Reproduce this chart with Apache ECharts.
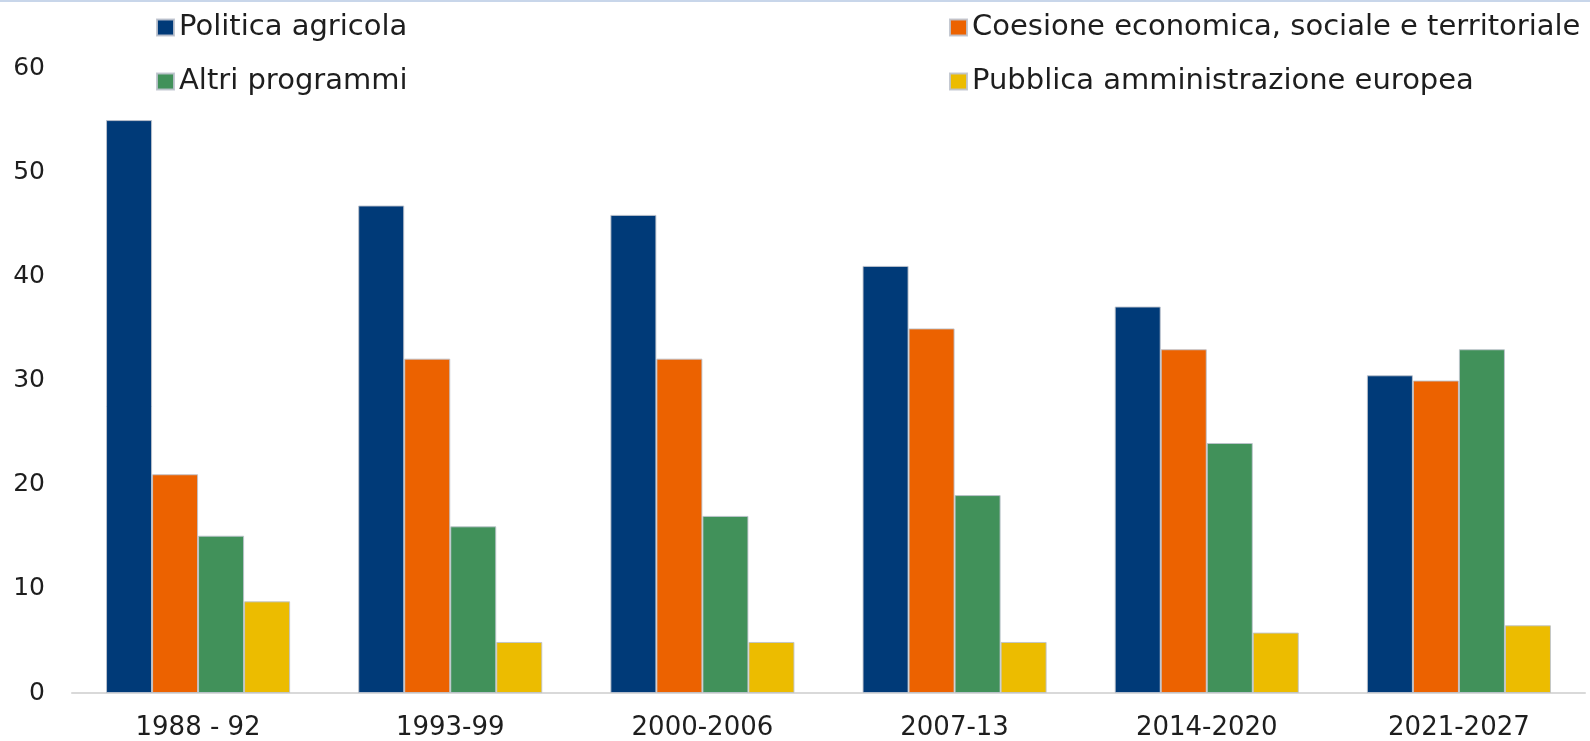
<!DOCTYPE html>
<html>
<head>
<meta charset="utf-8">
<script src="https://cdn.jsdelivr.net/npm/echarts@6/dist/echarts.min.js"></script>
<style>html,body{margin:0;padding:0;background:#fff;}#c{width:1590px;height:741px;}</style>
</head>
<body>
<div id="c"></div>
<script>
const categories = ['1988 - 92', '1993-99', '2000-2006', '2007-13', '2014-2020', '2021-2027'];
const politicaAgricola = [55.0, 46.8, 45.9, 41.0, 37.1, 30.5];
const coesione = [21.0, 32.1, 32.1, 35.0, 33.0, 30.0];
const altriProgrammi = [15.1, 16.0, 17.0, 19.0, 24.0, 33.0];
const pubblicaAmm = [8.8, 4.9, 4.9, 4.9, 5.8, 6.5];
const yTicks = [0, 10, 20, 30, 40, 50, 60];

const names = ['Politica agricola', 'Coesione economica, sociale e territoriale', 'Altri programmi', 'Pubblica amministrazione europea'];
const colors = ['#003a78', '#ec6200', '#41915a', '#ecbc00'];
const values = [politicaAgricola, coesione, altriProgrammi, pubblicaAmm];
const font = 'DejaVu Sans';

const chart = echarts.init(document.getElementById('c'));
const legendPos = [[151, 8], [944, 8], [151, 62], [944, 62]];
chart.setOption({
  animation: false,
  textStyle: { fontFamily: font },
  graphic: [{ type: 'rect', shape: { x: 0, y: 0, width: 1590, height: 2 }, style: { fill: '#c8d6ea' } }],
  legend: names.map((n, i) => ({
    data: [n], left: legendPos[i][0], top: legendPos[i][1],
    itemWidth: 17, itemHeight: 16, icon: 'rect',
    textStyle: { fontFamily: font, fontSize: 29, color: '#1e1e1e' }
  })),
  grid: { left: 72, right: 5, top: 68, bottom: 45, containLabel: false },
  xAxis: {
    type: 'category', data: categories,
    axisLine: { lineStyle: { color: '#d9d9d9', width: 2 } },
    axisTick: { show: false },
    axisLabel: { fontFamily: font, fontSize: 26, color: '#1e1e1e', margin: 22 }
  },
  yAxis: {
    type: 'value', min: 0, max: 60, interval: 10,
    splitLine: { show: false },
    axisLine: { show: false }, axisTick: { show: false },
    axisLabel: { fontFamily: font, fontSize: 25, color: '#1e1e1e', margin: 27,
      formatter: v => yTicks.includes(v) ? String(v) : '' }
  },
  series: values.map((v, i) => ({
    name: names[i], type: 'bar', data: v,
    barGap: '0%', barCategoryGap: '27%',
    itemStyle: { color: colors[i], borderColor: 'rgba(190,195,205,0.9)', borderWidth: 1 }
  }))
});
</script>
</body>
</html>
